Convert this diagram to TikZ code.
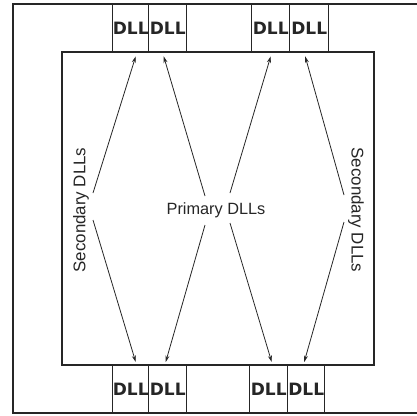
\documentclass[tikz,border=0pt]{standalone}
\usepackage{fontspec}
\setmainfont{Liberation Sans}
\newfontfamily\dllfont{DejaVu Sans}
\usetikzlibrary{arrows.meta}
\definecolor{ink}{HTML}{262626}
\tikzset{
  frame/.style={draw=ink, line width=1.4pt},
  dllbox/.style={draw=ink, line width=1.4pt, minimum width=37pt, minimum height=48pt, inner sep=0pt, anchor=north west, font=\dllfont\bfseries\fontsize{17}{17}\selectfont, text=ink},
  lbl/.style={font=\fontsize{16.3}{17}\selectfont, text=ink, inner sep=0pt},
  slbl/.style={lbl, font=\fontsize{16.9}{17}\selectfont},
  link/.style={draw=ink, line width=0.8pt, -{Stealth[length=6.5pt,width=4pt]}}
}
\begin{document}
\begin{tikzpicture}[x=1pt,y=-1pt]
\useasboundingbox (0,0) rectangle (417,415);
\fill[white] (0,0) rectangle (417,415);
% outer frame (right side beyond the page)
\draw[frame] (440,4) -- (13,4) -- (13,413) -- (440,413);
% inner die
\draw[frame] (62,52) rectangle (374,365);
% top DLLs
\node[dllbox, minimum width=36pt] (t1) at (112,4) {DLL};
\node[dllbox, minimum width=38pt] (t2) at (148,4) {DLL};
\node[dllbox, minimum width=38pt] (t3) at (251,4) {DLL};
\node[dllbox, minimum width=39pt] (t4) at (289,4) {DLL};
% bottom DLLs
\node[dllbox, minimum width=36pt] (b1) at (112,365) {DLL};
\node[dllbox, minimum width=38pt] (b2) at (148,365) {DLL};
\node[dllbox, minimum width=38pt] (b3) at (249,365) {DLL};
\node[dllbox, minimum width=37pt] (b4) at (287,365) {DLL};
% labels
\node[slbl, rotate=90] (sl) at (81,210) {Secondary DLLs};
\node[lbl] (pr) at (216,210) {Primary DLLs};
\node[slbl, rotate=-90] (sr) at (356,210) {Secondary DLLs};
% connectors
\draw[link] ([xshift=12pt,yshift=17pt]sl.center) -- ([xshift=5pt,yshift=-3pt]t1.south);
\draw[link] ([xshift=12pt,yshift=-10pt]sl.center) -- ([xshift=5pt,yshift=3pt]b1.north);
\draw[link] ([xshift=-11pt,yshift=14pt]pr.center) -- ([xshift=-4pt,yshift=-3pt]t2.south);
\draw[link] ([xshift=14pt,yshift=17pt]pr.center) -- ([xshift=0pt,yshift=-3pt]t3.south);
\draw[link] ([xshift=-11pt,yshift=-15pt]pr.center) -- ([xshift=-2pt,yshift=3pt]b2.north);
\draw[link] ([xshift=14pt,yshift=-13pt]pr.center) -- ([xshift=3pt,yshift=3pt]b3.north);
\draw[link] ([xshift=-12pt,yshift=15pt]sr.center) -- ([xshift=-4pt,yshift=-3pt]t4.south);
\draw[link] ([xshift=-12pt,yshift=-12pt]sr.center) -- ([xshift=-2pt,yshift=3pt]b4.north);
\end{tikzpicture}
\end{document}
